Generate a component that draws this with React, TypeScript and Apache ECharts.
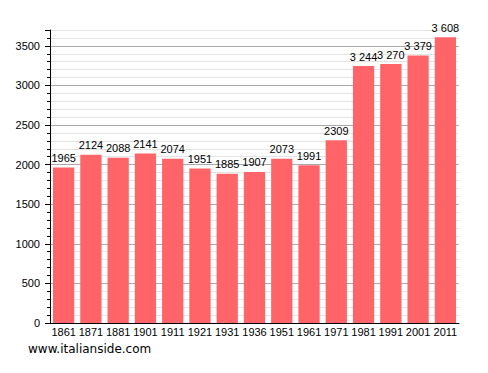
import React, { useEffect, useRef } from "react";
import * as echarts from "echarts";

const years = ["1861", "1871", "1881", "1901", "1911", "1921", "1931", "1936", "1951", "1961", "1971", "1981", "1991", "2001", "2011"];
const population = [1965, 2124, 2088, 2141, 2074, 1951, 1885, 1907, 2073, 1991, 2309, 3244, 3270, 3379, 3608];
const yMax = 3700;

const fmt = (v: number) => (v >= 3000 ? String(v).replace(/(\d)(\d{3})$/, "$1 $2") : String(v));

export default function App() {
  const ref = useRef<HTMLDivElement>(null);
  useEffect(() => {
    document.body.style.margin = "0";
    const chart = echarts.init(ref.current!, null, { renderer: "svg" });
    chart.setOption({
      animation: false,
      backgroundColor: "#ffffff",
      grid: { left: 50, right: 29, top: 30, bottom: 50, containLabel: false },
      xAxis: {
        type: "category",
        data: years,
        axisLine: { lineStyle: { color: "#000", width: 1 } },
        axisTick: { show: false },
        axisLabel: { color: "#000", fontSize: 11, fontFamily: "Liberation Sans", margin: 3, interval: 0 },
      },
      yAxis: [
        {
          type: "value",
          min: 0,
          max: yMax,
          interval: 100,
          axisLine: { show: true, lineStyle: { color: "#000" } },
          axisTick: { show: true, length: 3, lineStyle: { color: "#000" } },
          axisLabel: {
            color: "#000",
            fontSize: 11,
            fontFamily: "Liberation Sans",
            margin: 10,
            formatter: (v: number) => (v % 500 === 0 ? String(v) : ""),
          },
          splitLine: {
            show: true,
            lineStyle: { color: ["#aaaaaa", "#e3e3e3", "#e3e3e3", "#e3e3e3", "#e3e3e3"], width: 1 },
          },
        },
        {
          type: "value",
          position: "left",
          min: 0,
          max: yMax,
          interval: 500,
          axisLine: { show: false },
          axisTick: { show: true, length: 5, lineStyle: { color: "#000" } },
          axisLabel: { show: false },
          splitLine: { show: false },
        },
      ],
      series: [
        {
          type: "bar",
          data: population,
          yAxisIndex: 0,
          barCategoryGap: "22%",
          itemStyle: { color: "#ff6468" },
          label: {
            show: true,
            position: "top",
            distance: 4,
            color: "#000",
            fontSize: 11,
            fontFamily: "Liberation Sans",
            formatter: (p: any) => fmt(p.value),
          },
        },
      ],
      graphic: [
        {
          type: "text",
          left: 28,
          top: 343,
          style: { text: "www.italianside.com", fill: "#000", fontSize: 12, fontFamily: "DejaVu Sans" },
        },
      ],
    });
    return () => chart.dispose();
  }, []);
  return <div ref={ref} style={{ width: 488, height: 373 }} />;
}
